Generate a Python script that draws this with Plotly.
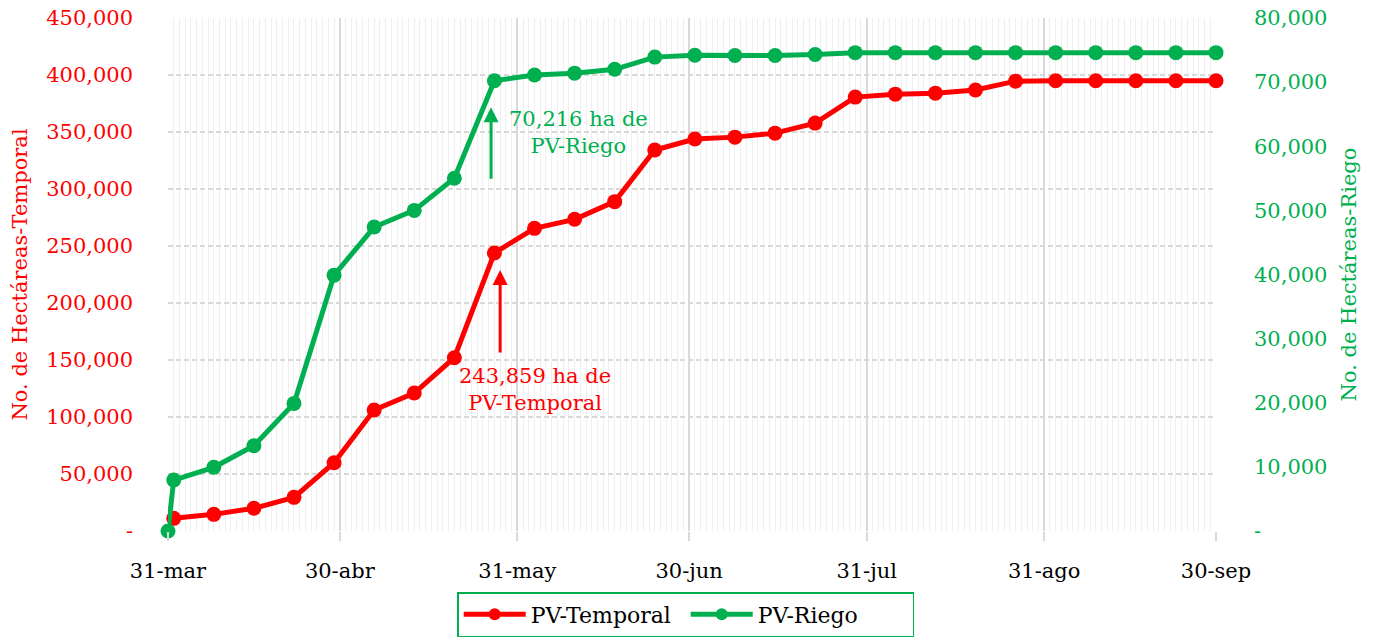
import plotly.graph_objects as go

fechas = ["2023-03-31", "2023-04-01", "2023-04-08", "2023-04-15", "2023-04-22", "2023-04-29",
          "2023-05-06", "2023-05-13", "2023-05-20", "2023-05-27",
          "2023-06-03", "2023-06-10", "2023-06-17", "2023-06-24",
          "2023-07-01", "2023-07-08", "2023-07-15", "2023-07-22", "2023-07-29",
          "2023-08-05", "2023-08-12", "2023-08-19", "2023-08-26",
          "2023-09-02", "2023-09-09", "2023-09-16", "2023-09-23", "2023-09-30"]

pv_temporal = [None, 11100, 14600, 19900, 29500, 59900,
               106100, 121000, 152000, 243859,
               265500, 273400, 288900, 334200,
               343800, 345500, 349000, 357800, 380600,
               383200, 384100, 386800, 394600,
               395000, 395000, 395000, 395000, 395000]

pv_riego = [0, 7950, 9930, 13300, 19900, 39900,
            47400, 50000, 55000, 70216,
            71100, 71400, 72000, 73900,
            74200, 74150, 74150, 74300, 74600,
            74600, 74600, 74600, 74600,
            74600, 74600, 74600, 74600, 74600]

x_tickvals = ["2023-03-31", "2023-04-30", "2023-05-31", "2023-06-30", "2023-07-31", "2023-08-31", "2023-09-30"]
x_ticktext = ["31-mar", "30-abr", "31-may", "30-jun", "31-jul", "31-ago", "30-sep"]

y1_tickvals = [0, 50000, 100000, 150000, 200000, 250000, 300000, 350000, 400000, 450000]
y1_ticktext = ["-", "50,000", "100,000", "150,000", "200,000", "250,000", "300,000", "350,000", "400,000", "450,000"]
y2_tickvals = [0, 10000, 20000, 30000, 40000, 50000, 60000, 70000, 80000]
y2_ticktext = ["-", "10,000", "20,000", "30,000", "40,000", "50,000", "60,000", "70,000", "80,000"]

RED = "#FF0000"
GREEN = "#00B050"
FONT = "DejaVu Serif"
FS = 21
FSY = 21

fig = go.Figure()
fig.add_trace(go.Scatter(x=fechas, y=pv_temporal, name="PV-Temporal", mode="lines+markers",
                         line=dict(color=RED, width=5), marker=dict(color=RED, size=15),
                         cliponaxis=False, yaxis="y"))
fig.add_trace(go.Scatter(x=fechas, y=pv_riego, name="PV-Riego", mode="lines+markers",
                         line=dict(color=GREEN, width=5), marker=dict(color=GREEN, size=15),
                         cliponaxis=False, yaxis="y2"))

fig.update_layout(
    width=1377, height=642,
    margin=dict(l=168, r=161, t=18, b=111, autoexpand=False),
    paper_bgcolor="white", plot_bgcolor="white",
    font=dict(family=FONT, size=FS, color="black"),
    xaxis=dict(type="date", range=["2023-03-31", "2023-09-30"],
               tickvals=x_tickvals, ticktext=x_ticktext,
               showgrid=True, gridcolor="#d9d9d9", gridwidth=1.5,
               ticks="outside", ticklen=9, tickcolor="#d9d9d9", tickwidth=1.5,
               ticklabelstandoff=12, automargin=False, ticklabeloverflow="allow",
               tickfont=dict(family=FONT, size=FS, color="black"),
               minor=dict(dtick=86400000, tick0="2023-03-31", showgrid=True,
                          gridcolor="#efefef", gridwidth=1),
               showline=False, zeroline=False),
    yaxis=dict(range=[0, 450000], tickvals=y1_tickvals, ticktext=y1_ticktext,
               showgrid=True, gridcolor="#d9d9d9", gridwidth=1.5, griddash="5px,3px",
               zeroline=False, showline=False, ticks="", automargin=False,
               ticklabelstandoff=34, ticklabeloverflow="allow",
               tickfont=dict(family=FONT, size=FSY, color=RED),
               title=dict(text="No. de Hectáreas-Temporal", font=dict(family=FONT, size=FS, color=RED), standoff=12)),
    yaxis2=dict(range=[0, 80000], tickvals=y2_tickvals, ticktext=y2_ticktext,
                overlaying="y", side="right", showgrid=False, zeroline=False, showline=False, ticks="",
                ticklabelstandoff=37, automargin=False, ticklabeloverflow="allow",
                tickfont=dict(family=FONT, size=FSY, color=GREEN),
                title=dict(text="No. de Hectáreas-Riego", font=dict(family=FONT, size=FS, color=GREEN), standoff=14)),
    legend=dict(orientation="h", x=0.494, xanchor="center", y=-0.119, yanchor="top",
                bordercolor=GREEN, borderwidth=1.5, bgcolor="white",
                font=dict(family=FONT, size=22, color="black"),
                itemsizing="constant",
                itemwidth=62, entrywidth=150, traceorder="normal"),
    showlegend=True,
)

# Annotations
fig.add_annotation(x="2023-05-26 10:00", y=66100, xref="x", yref="y2",
                   ax=0, ay=73, axref="pixel", ayref="pixel", text="",
                   showarrow=True, arrowhead=2, arrowsize=1, arrowwidth=3, arrowcolor=GREEN)
fig.add_annotation(x="2023-06-10 17:00", y=62200, xref="x", yref="y2",
                   text="70,216 ha de<br>PV-Riego", showarrow=False,
                   font=dict(family=FONT, size=FS, color=GREEN), align="center")
fig.add_annotation(x="2023-05-28", y=229000, xref="x", yref="y",
                   ax=0, ay=84, axref="pixel", ayref="pixel", text="",
                   showarrow=True, arrowhead=2, arrowsize=1, arrowwidth=3, arrowcolor=RED)
fig.add_annotation(x="2023-06-03", y=124500, xref="x", yref="y",
                   text="243,859 ha de<br>PV-Temporal", showarrow=False,
                   font=dict(family=FONT, size=FS, color=RED), align="center")

fig.write_html("out.html", config={"displayModeBar": False},
               post_script="document.body.style.margin='0px';")
